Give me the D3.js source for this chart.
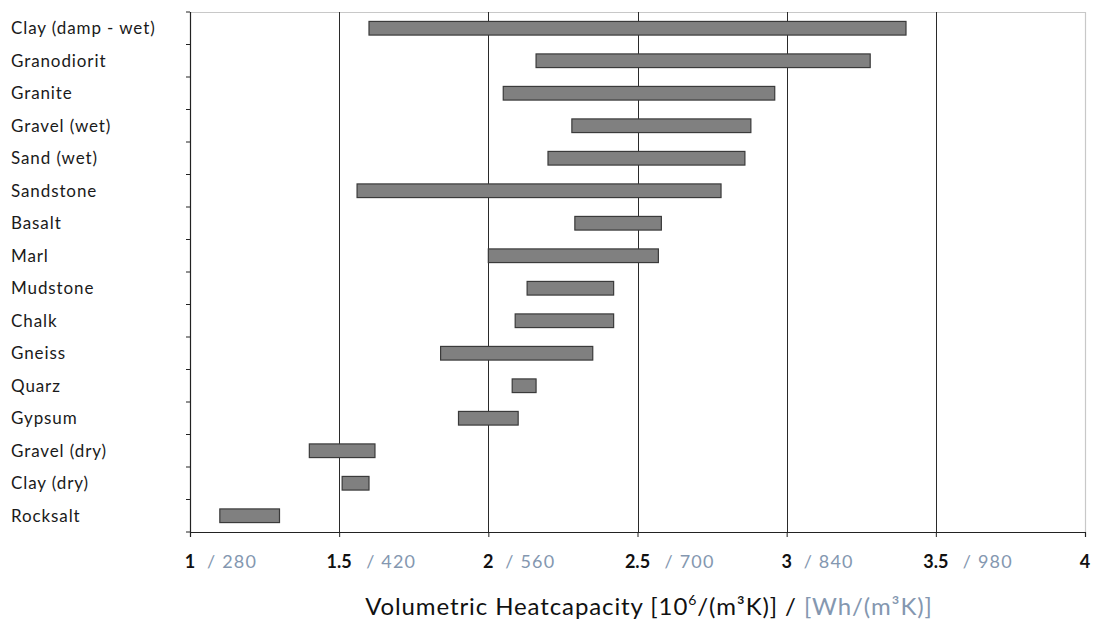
<!DOCTYPE html>
<html>
<head>
<meta charset="utf-8">
<script src="https://cdn.jsdelivr.net/npm/d3@7"></script>
<style>
  html, body { margin: 0; padding: 0; background: #fff; }
  svg { display: block; }
  text { font-family: Lato, "Open Sans", sans-serif; }
</style>
</head>
<body>
<svg id="chart" width="1094" height="623"></svg>
<script>
// Volumetric heat capacity ranges of soils and rocks [MJ/(m³K)]
const categories = [
  "Clay (damp - wet)", "Granodiorit", "Granite", "Gravel (wet)", "Sand (wet)",
  "Sandstone", "Basalt", "Marl", "Mudstone", "Chalk", "Gneiss", "Quarz",
  "Gypsum", "Gravel (dry)", "Clay (dry)", "Rocksalt"
];
const lowValues  = [1.60, 2.16, 2.05, 2.28, 2.20, 1.56, 2.29, 2.00, 2.13, 2.09, 1.84, 2.08, 1.90, 1.40, 1.51, 1.10];
const highValues = [3.40, 3.28, 2.96, 2.88, 2.86, 2.78, 2.58, 2.57, 2.42, 2.42, 2.35, 2.16, 2.10, 1.62, 1.60, 1.30];

// Axis ticks: MJ/(m³K) with the matching Wh/(m³K) value
const tickValues = [1, 1.5, 2, 2.5, 3, 3.5, 4];
const tickLabels = ["1", "1.5", "2", "2.5", "3", "3.5", "4"];
const whLabels   = ["280", "420", "560", "700", "840", "980", ""];

const svg = d3.select("#chart");
const plotLeft = 190, plotRight = 1085, plotTop = 12, plotBottom = 532;

const x = d3.scaleLinear().domain([1, 4]).range([plotLeft, plotRight]);
const y = d3.scaleBand().domain(categories).range([plotTop, plotBottom])
  .paddingInner(0.58).paddingOuter(0.29);

// plot frame (light top/right edges)
svg.append("line").attr("x1", plotLeft).attr("x2", plotRight).attr("y1", plotTop + 0.5).attr("y2", plotTop + 0.5)
  .attr("stroke", "#c8c8c8").attr("stroke-width", 1.2);
svg.append("line").attr("x1", x(4) + 0.5).attr("x2", x(4) + 0.5).attr("y1", plotTop).attr("y2", plotBottom)
  .attr("stroke", "#c8c8c8").attr("stroke-width", 1.2);

// vertical gridlines
svg.append("g").selectAll("line")
  .data(tickValues.filter(v => v > 1 && v < 4))
  .join("line")
  .attr("x1", d => Math.round(x(d)) + 0.5).attr("x2", d => Math.round(x(d)) + 0.5)
  .attr("y1", plotTop).attr("y2", plotBottom)
  .attr("stroke", "#2a2a2a").attr("stroke-width", 1);

// range bars
svg.append("g").selectAll("rect")
  .data(categories)
  .join("rect")
  .attr("x", (d, i) => x(lowValues[i]))
  .attr("y", d => y(d))
  .attr("width", (d, i) => x(highValues[i]) - x(lowValues[i]))
  .attr("height", y.bandwidth())
  .attr("fill", "#808080")
  .attr("stroke", "#3a3a3a")
  .attr("stroke-width", 1.2);

// left axis: line with ticks on category boundaries
const yAxis = svg.append("g");
yAxis.append("line").attr("x1", plotLeft + 0.5).attr("x2", plotLeft + 0.5).attr("y1", plotTop).attr("y2", plotBottom)
  .attr("stroke", "#222").attr("stroke-width", 1.2);
const step = y.step();
yAxis.selectAll("line.tick")
  .data(d3.range(categories.length + 1))
  .join("line").attr("class", "tick")
  .attr("x1", plotLeft - 4).attr("x2", plotLeft)
  .attr("y1", i => plotTop + i * step).attr("y2", i => plotTop + i * step)
  .attr("stroke", "#222").attr("stroke-width", 1);

// category labels
svg.append("g").selectAll("text")
  .data(categories)
  .join("text")
  .attr("x", 11)
  .attr("y", d => y(d) + y.bandwidth() / 2)
  .attr("dy", "0.36em")
  .attr("font-size", 17)
  .attr("letter-spacing", 0.9)
  .attr("fill", "#1a1a1a")
  .text(d => d);

// bottom axis
const xAxis = d3.axisBottom(x).tickValues(tickValues).tickSize(5).tickFormat("");
const gx = svg.append("g").attr("transform", `translate(0,${plotBottom})`).call(xAxis);
gx.select(".domain").attr("stroke", "#222").attr("stroke-width", 1.2);
gx.selectAll(".tick line").attr("stroke", "#222");

// tick labels: bold MJ value on the tick, Wh value beside it
const tl = svg.append("g");
tickValues.forEach((v, i) => {
  tl.append("text")
    .attr("x", x(v)).attr("y", 568)
    .attr("text-anchor", "middle")
    .attr("font-size", 18).attr("font-weight", "bold").attr("fill", "#111")
    .text(tickLabels[i]);
  if (whLabels[i]) {
    const off = tickLabels[i].length > 1 ? 27 : 17;
    tl.append("text")
      .attr("x", x(v) + off).attr("y", 568)
      .attr("font-size", 18).attr("letter-spacing", 1.2).attr("fill", "#8497b0")
      .text("/ " + whLabels[i]);
  }
});

// axis title
const title = svg.append("text")
  .attr("x", 649).attr("y", 615)
  .attr("text-anchor", "middle")
  .attr("font-size", 24).attr("letter-spacing", 0.9).attr("fill", "#111");
title.append("tspan").text("Volumetric Heatcapacity [10");
title.append("tspan").attr("font-size", 14).attr("dy", -10).text("6");
title.append("tspan").attr("dy", 10).text("/(m³K)] / ");
title.append("tspan").attr("fill", "#8497b0").text("[Wh/(m³K)]");
</script>
</body>
</html>
